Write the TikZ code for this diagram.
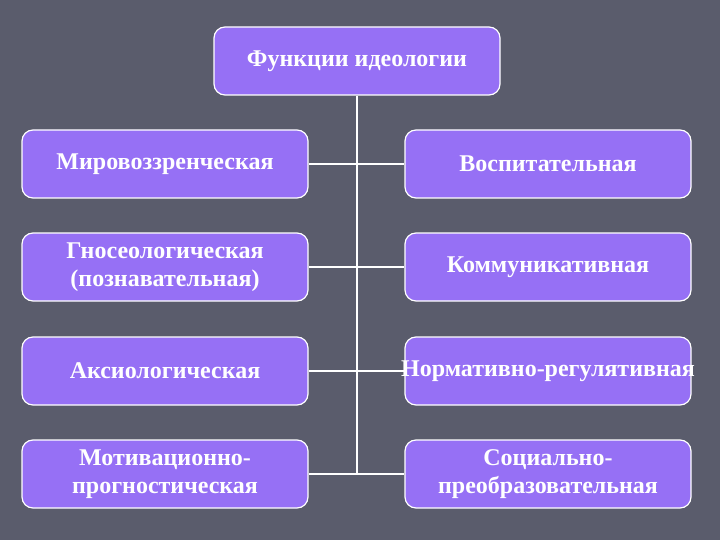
\documentclass[tikz,border=0pt]{standalone}
\usepackage{fontspec}
\setmainfont{Liberation Serif}
\usepackage{xcolor}
\definecolor{bg}{RGB}{90, 92, 108}
\definecolor{fn}{RGB}{150, 112, 245}
\usetikzlibrary{backgrounds}

\begin{document}
\begin{tikzpicture}[x=1pt, y=-1pt,
    fbox/.style={draw=white, line width=1.2pt, fill=fn, rounded corners=11pt,
        minimum width=286pt, minimum height=68pt, align=center, text=white,
        font=\bfseries\fontsize{24}{28}\selectfont},
    link/.style={white, line width=2pt}]
        \useasboundingbox (0,0) rectangle (720,540);
        \node[fbox] (top) at (357,61) {Функции идеологии};
        \node[fbox] (l1) at (165,164) {Мировоззренческая};
        \node[fbox] (l2) at (165,267) {Гносеологическая\\(познавательная)};
        \node[fbox] (l3) at (165,371) {Аксиологическая};
        \node[fbox] (l4) at (165,474) {Мотивационно-\\прогностическая};
        \node[fbox] (r1) at (548,164) {Воспитательная};
        \node[fbox] (r2) at (548,267) {Коммуникативная};
        \node[fbox, inner xsep=-5pt] (r3) at (548,371) {Нормативно-регулятивная};
        \node[fbox] (r4) at (548,474) {Социально-\\преобразовательная};
        \begin{pgfonlayer}{background}
        \fill[bg] (0,0) rectangle (720,540);
        \draw[link] (top.south) -- (top.south |- l4.east);
        \draw[link] (l1.east) -- (r1.west);
        \draw[link] (l2.east) -- (r2.west);
        \draw[link] (l3.east) -- (r3.west);
        \draw[link] (l4.east) -- (r4.west);
        \end{pgfonlayer}
    \end{tikzpicture}
\end{document}
